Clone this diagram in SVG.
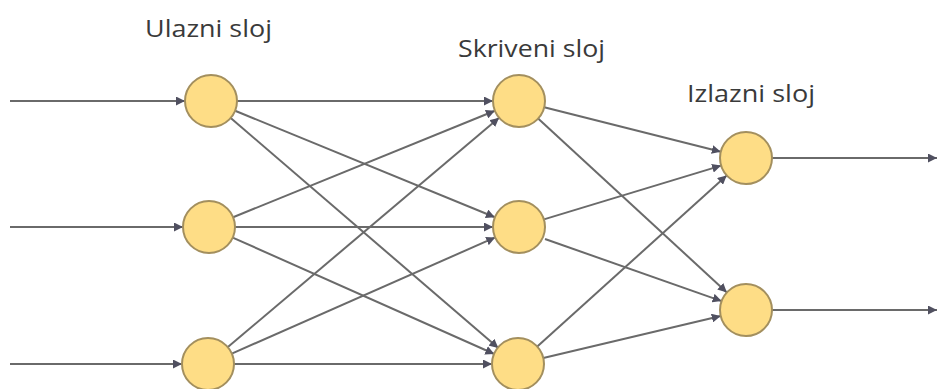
<svg xmlns="http://www.w3.org/2000/svg" width="939" height="389" viewBox="0 0 939 389">
<style>
.node{fill:#FEDD86;stroke:#A38F5E;stroke-width:2}
.lbl{font-family:"Open Sans","Liberation Sans",sans-serif;font-size:23px;fill:#3a3a3a}
.c line{stroke:#6a6a6a;stroke-width:2;marker-end:url(#ah)}
</style>
<defs>
<marker id="ah" viewBox="0 0 10 10" refX="10" refY="5" markerWidth="4.5" markerHeight="4.5" orient="auto" markerUnits="strokeWidth">
<path d="M0,0 L10,5 L0,10 z" fill="#505060"/>
</marker>
</defs>
<rect width="939" height="389" fill="#ffffff"/>
<text class="lbl" x="145" y="37" textLength="127" lengthAdjust="spacingAndGlyphs">Ulazni sloj</text>
<text class="lbl" x="458" y="57" textLength="147" lengthAdjust="spacingAndGlyphs">Skriveni sloj</text>
<text class="lbl" x="687" y="102" textLength="128" lengthAdjust="spacingAndGlyphs">Izlazni sloj</text>
<g id="connectors" class="c">
<line x1="10" y1="101" x2="185" y2="101"/>
<line x1="10" y1="227" x2="183" y2="227"/>
<line x1="10" y1="364" x2="182" y2="364"/>
<line x1="237" y1="101" x2="493" y2="101"/>
<line x1="235.1" y1="110.8" x2="494.9" y2="217.2"/>
<line x1="230.7" y1="118" x2="498.3" y2="348"/>
<line x1="233.1" y1="217.2" x2="494.9" y2="110.8"/>
<line x1="235" y1="227" x2="493" y2="227"/>
<line x1="232.7" y1="237.6" x2="494.3" y2="354"/>
<line x1="227.9" y1="347" x2="499.1" y2="117.8"/>
<line x1="231.8" y1="353.6" x2="495.2" y2="237.4"/>
<line x1="234" y1="364" x2="492" y2="364"/>
<line x1="544.2" y1="107.3" x2="720.8" y2="151.7"/>
<line x1="538.1" y1="118.6" x2="726.9" y2="292.4"/>
<line x1="543.9" y1="219.4" x2="721.1" y2="165.6"/>
<line x1="545" y1="239" x2="721.6" y2="301.1"/>
<line x1="537.3" y1="346.6" x2="726.7" y2="175.4"/>
<line x1="543.3" y1="358" x2="720.7" y2="316"/>
<line x1="772" y1="158" x2="937" y2="158"/>
<line x1="772" y1="310" x2="937" y2="310"/>
</g>
<g id="in1"><circle class="node" cx="211" cy="101" r="26"/></g>
<g id="in2"><circle class="node" cx="209" cy="227" r="26"/></g>
<g id="in3"><circle class="node" cx="208" cy="364" r="26"/></g>
<g id="hid1"><circle class="node" cx="519" cy="101" r="26"/></g>
<g id="hid2"><circle class="node" cx="519" cy="227" r="26"/></g>
<g id="hid3"><circle class="node" cx="518" cy="364" r="26"/></g>
<g id="out1"><circle class="node" cx="746" cy="158" r="26"/></g>
<g id="out2"><circle class="node" cx="746" cy="310" r="26"/></g>
</svg>
